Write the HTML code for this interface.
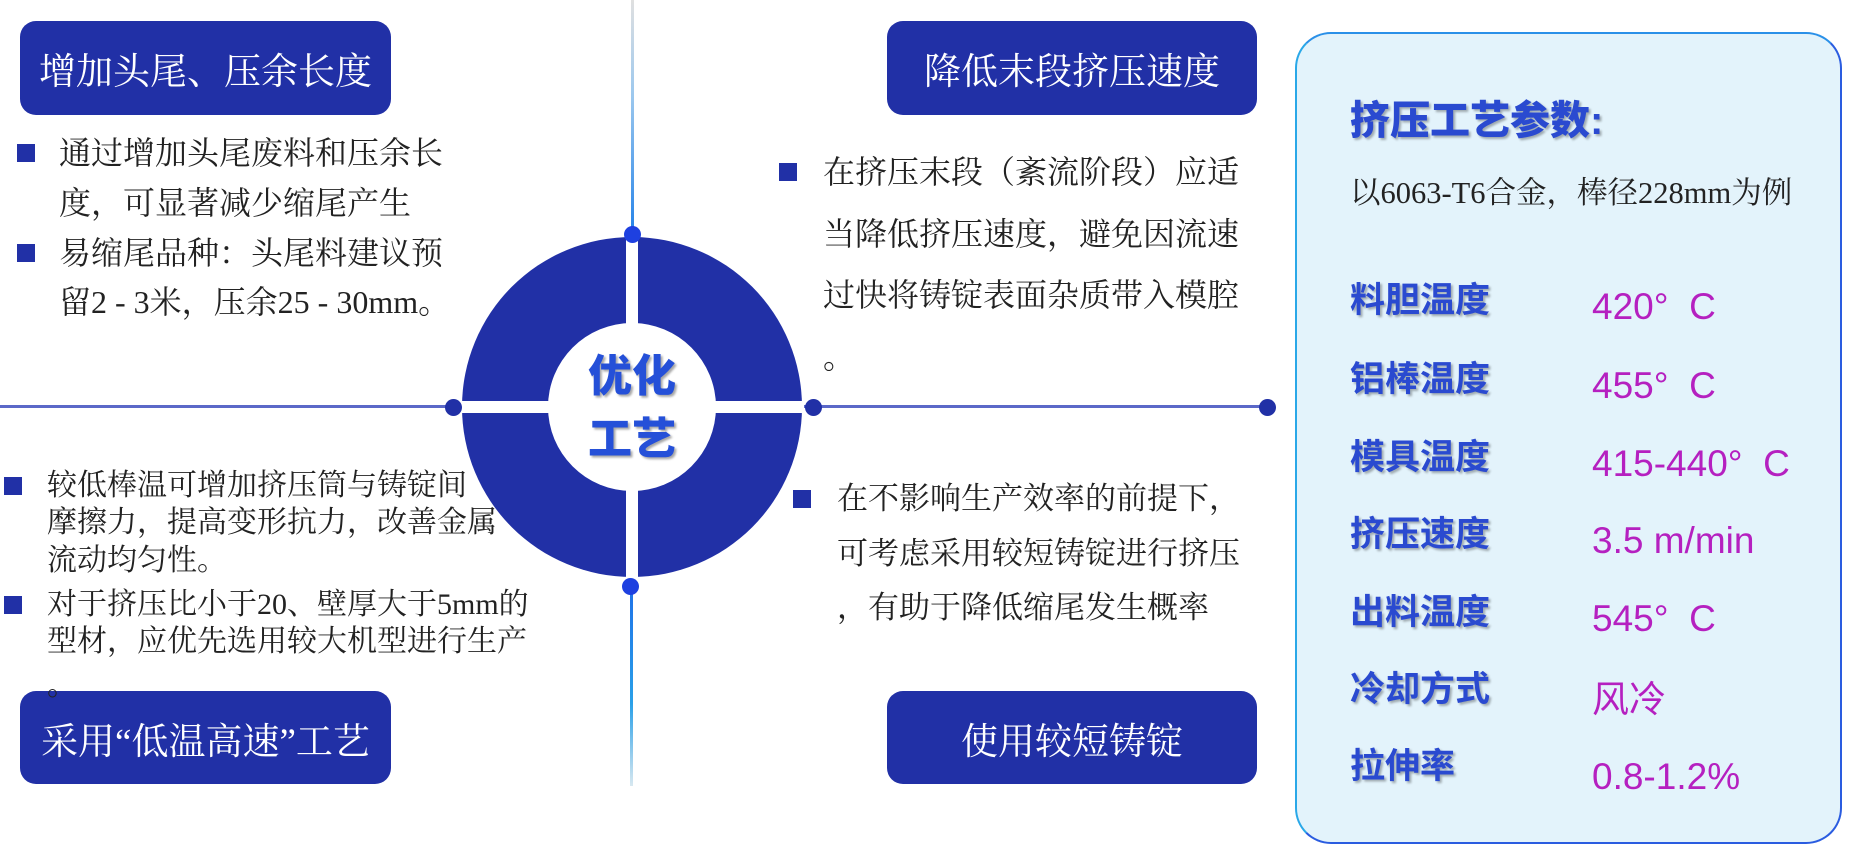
<!DOCTYPE html>
<html><head><meta charset="utf-8"><style>
*{margin:0;padding:0;box-sizing:border-box}
body{width:1860px;height:854px;background:#fff;position:relative;overflow:hidden;font-family:"Liberation Serif","Noto Serif CJK SC",serif;color:#222}
.a{position:absolute}
.box{position:absolute;background:#2130a6;border-radius:16px;color:#fff;font-size:37px;display:flex;align-items:center;justify-content:center;white-space:nowrap}
.sq{position:absolute;width:18px;height:18px;background:#2130a6}
.t{position:absolute;white-space:nowrap}
.dot{position:absolute;width:17px;height:17px;border-radius:50%;background:#2130a6}
.lab{position:absolute;left:1350px;font-family:"Liberation Sans","Noto Sans CJK SC",sans-serif;font-weight:bold;color:#2a4ad0;font-size:35px;text-shadow:2px 2px 2px rgba(0,0,0,.3);line-height:40px}
.val{position:absolute;left:1592px;font-family:"Liberation Sans","Noto Sans CJK SC",sans-serif;color:#b520c0;font-size:37px;line-height:40px;white-space:pre}
</style></head><body>
<div class="a" style="left:631px;top:0;width:3px;height:240px;background:linear-gradient(#e0e0e0,#9cc8ee 40%,#1e7fe8)"></div>
<div class="a" style="left:630px;top:580px;width:3px;height:206px;background:linear-gradient(#1e6fe8,#2aa0e8 60%,#d8e8f0)"></div>
<div class="a" style="left:0;top:405px;width:1268px;height:3px;background:#5b68c8"></div>
<svg class="a" style="left:460px;top:235px" width="344" height="344" viewBox="0 0 344 344">
<circle cx="172" cy="172" r="170" fill="#2130a6"/>
<circle cx="172" cy="172" r="84" fill="#fff"/>
<rect x="166" y="0" width="12" height="344" fill="#fff"/>
<rect x="0" y="166" width="344" height="12" fill="#fff"/>
</svg>
<div class="dot" style="left:624px;top:226px;background:#1e40e0"></div>
<div class="dot" style="left:622px;top:578px;background:#1e40e0"></div>
<div class="dot" style="left:445px;top:399px"></div>
<div class="dot" style="left:805px;top:399px"></div>
<div class="dot" style="left:1259px;top:399px"></div>
<div class="t" style="left:588px;top:350px;font-family:'Liberation Sans','Noto Sans CJK SC',sans-serif;font-weight:900;font-size:44px;line-height:54px;color:#2550d8;text-shadow:2px 2px 2px rgba(0,0,0,.35)">优化</div>
<div class="t" style="left:588px;top:413px;font-family:'Liberation Sans','Noto Sans CJK SC',sans-serif;font-weight:900;font-size:44px;line-height:54px;color:#2550d8;text-shadow:2px 2px 2px rgba(0,0,0,.35)">工艺</div>
<div class="box" style="left:20px;top:21px;width:371px;height:94px">增加头尾、压余长度</div>
<div class="box" style="left:20px;top:691px;width:371px;height:93px">采用“低温高速”工艺</div>
<div class="box" style="left:887px;top:21px;width:370px;height:94px">降低末段挤压速度</div>
<div class="box" style="left:887px;top:691px;width:370px;height:93px">使用较短铸锭</div>
<div style="font-size:32px;line-height:40px">
<div class="sq" style="left:17px;top:144px"></div>
<div class="t" style="left:59px;top:133px">通过增加头尾废料和压余长</div>
<div class="t" style="left:59px;top:183px">度，可显著减少缩尾产生</div>
<div class="sq" style="left:17px;top:244px"></div>
<div class="t" style="left:59px;top:233px">易缩尾品种：头尾料建议预</div>
<div class="t" style="left:59px;top:282px">留2 - 3米，压余25 - 30mm。</div>
</div>
<div style="font-size:32px;line-height:40px">
<div class="sq" style="left:779px;top:163px"></div>
<div class="t" style="left:823px;top:152px">在挤压末段（紊流阶段）应适</div>
<div class="t" style="left:823px;top:214px">当降低挤压速度，避免因流速</div>
<div class="t" style="left:823px;top:275px">过快将铸锭表面杂质带入模腔</div>
<div class="t" style="left:823px;top:337px">。</div>
</div>
<div style="font-size:31px;line-height:40px">
<div class="sq" style="left:793px;top:490px"></div>
<div class="t" style="left:837px;top:479px">在不影响生产效率的前提下，</div>
<div class="t" style="left:837px;top:534px">可考虑采用较短铸锭进行挤压</div>
<div class="t" style="left:837px;top:588px">，有助于降低缩尾发生概率</div>
</div>
<div style="font-size:30px;line-height:38px">
<div class="sq" style="left:4px;top:477px"></div>
<div class="t" style="left:47px;top:467px">较低棒温可增加挤压筒与铸锭间</div>
<div class="t" style="left:47px;top:504px">摩擦力，提高变形抗力，改善金属</div>
<div class="t" style="left:47px;top:542px">流动均匀性。</div>
<div class="sq" style="left:4px;top:596px"></div>
<div class="t" style="left:47px;top:586px">对于挤压比小于20、壁厚大于5mm的</div>
<div class="t" style="left:47px;top:623px">型材，应优先选用较大机型进行生产</div>
<div class="t" style="left:47px;top:667px">。</div>
</div>
<div class="a" style="left:1295px;top:32px;width:547px;height:812px;border-radius:36px;background:#e3f3fb;border:2px solid #2a5ce0;border-left-color:#2aa8e8;border-top-color:#2a90e8"></div>
<div class="t" style="left:1350px;top:98px;font-family:'Liberation Sans','Noto Sans CJK SC',sans-serif;font-weight:900;font-size:40px;line-height:46px;color:#2a4ad0;text-shadow:2px 2px 2px rgba(0,0,0,.3)">挤压工艺参数:</div>
<div class="t" style="left:1350px;top:173px;font-size:30.5px;line-height:40px">以6063-T6合金，棒径228mm为例</div>
<div class="lab" style="top:281px">料胆温度</div><div class="val" style="top:287px">420°  C</div>
<div class="lab" style="top:360px">铝棒温度</div><div class="val" style="top:366px">455°  C</div>
<div class="lab" style="top:438px">模具温度</div><div class="val" style="top:444px">415-440°  C</div>
<div class="lab" style="top:515px">挤压速度</div><div class="val" style="top:521px">3.5 m/min</div>
<div class="lab" style="top:593px">出料温度</div><div class="val" style="top:599px">545°  C</div>
<div class="lab" style="top:670px">冷却方式</div><div class="val" style="top:680px">风冷</div>
<div class="lab" style="top:747px">拉伸率</div><div class="val" style="top:757px">0.8-1.2%</div>
</body></html>
